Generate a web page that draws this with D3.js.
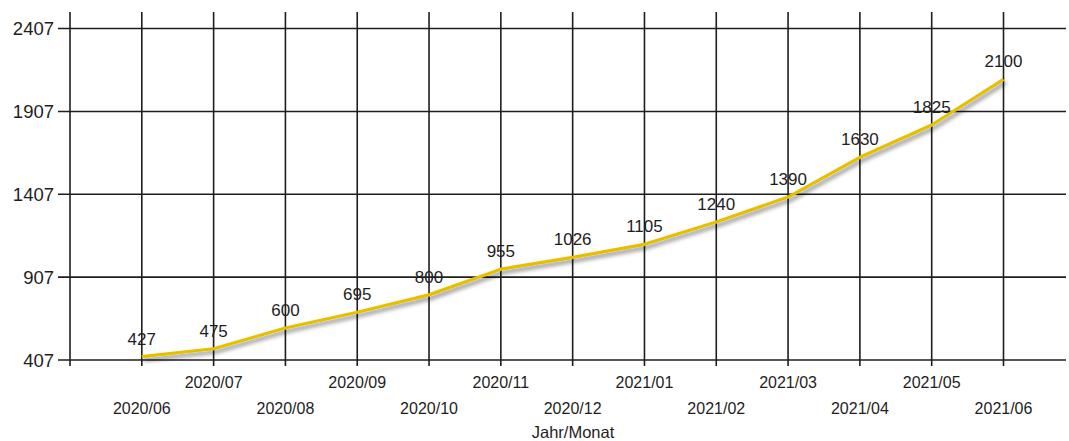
<!DOCTYPE html>
<html>
<head>
<meta charset="utf-8">
<script src="https://cdn.jsdelivr.net/npm/d3@7"></script>
<style>
  body { margin: 0; background: #fff; }
  text { font-family: "Liberation Sans", Arial, sans-serif; fill: #1e1e1e; }
</style>
</head>
<body>
<div id="chart"></div>
<script>
var months = ["2020/06", "2020/07", "2020/08", "2020/09", "2020/10", "2020/11", "2020/12",
              "2021/01", "2021/02", "2021/03", "2021/04", "2021/05", "2021/06"]
var counts = [427, 475, 600, 695, 800, 955, 1026, 1105, 1240, 1390, 1630, 1825, 2100]
var yTicks = [407, 907, 1407, 1907, 2407]

var svg = d3.select("#chart").append("svg")
            .attr("width", 1069)
            .attr("height", 441)

var plotLeft = 70, plotRight = 1066, plotTop = 12, plotBottom = 360

var x = d3.scaleLinear().domain([-1, 12]).range([plotLeft, 1003.5])
var y = d3.scaleLinear().domain([407, 2507]).range([plotBottom, plotTop])

var defs = svg.append("defs")
var sh = defs.append("filter").attr("id", "shadow")
  .attr("x", "-5%").attr("y", "-50%").attr("width", "110%").attr("height", "300%")
sh.append("feGaussianBlur").attr("in", "SourceAlpha").attr("stdDeviation", 2)
sh.append("feOffset").attr("dx", 2).attr("dy", 3).attr("result", "b")
sh.append("feComponentTransfer").append("feFuncA").attr("type", "linear").attr("slope", 0.5)
var m = sh.append("feMerge")
m.append("feMergeNode")
m.append("feMergeNode").attr("in", "SourceGraphic")

// grid
var grid = svg.append("g").attr("stroke", "#1e1e1e").attr("stroke-width", 1.6)
grid.selectAll("line.v").data(d3.range(-1, 13))
  .enter().append("line")
    .attr("x1", d => x(d)).attr("x2", d => x(d))
    .attr("y1", plotTop).attr("y2", plotBottom + 6)
grid.selectAll("line.h").data(yTicks)
  .enter().append("line")
    .attr("x1", plotLeft - 12).attr("x2", plotRight)
    .attr("y1", d => y(d)).attr("y2", d => y(d))

// x axis line with shadow
svg.append("line")
  .attr("x1", plotLeft).attr("x2", plotRight)
  .attr("y1", plotBottom).attr("y2", plotBottom)
  .attr("stroke", "#111").attr("stroke-width", 2)
  .attr("filter", "url(#shadow)")

// y labels
svg.append("g").selectAll("text").data(yTicks)
  .enter().append("text")
    .attr("x", 54).attr("y", d => y(d) + 6.5)
    .attr("text-anchor", "end")
    .attr("font-size", 18.5)
    .text(d => d)

// x labels, staggered
svg.append("g").selectAll("text").data(months)
  .enter().append("text")
    .attr("x", (d, i) => x(i))
    .attr("y", (d, i) => i % 2 ? 388 : 414)
    .attr("text-anchor", "middle")
    .attr("font-size", 16)
    .text(d => d)

svg.append("text")
  .attr("x", 573).attr("y", 438)
  .attr("text-anchor", "middle")
  .attr("font-size", 16.5)
  .text("Jahr/Monat")

// series line
var line = d3.line().x((d, i) => x(i)).y(d => y(d))
svg.append("path")
  .datum(counts)
  .attr("d", line)
  .attr("fill", "none")
  .attr("stroke", "#e6c000")
  .attr("stroke-width", 3.2)
  .attr("stroke-linejoin", "round")
  .attr("filter", "url(#shadow)")

// point labels
svg.append("g").selectAll("text").data(counts)
  .enter().append("text")
    .attr("x", (d, i) => x(i))
    .attr("y", d => y(d) - 12)
    .attr("text-anchor", "middle")
    .attr("font-size", 17)
    .text(d => d)
</script>
</body>
</html>
